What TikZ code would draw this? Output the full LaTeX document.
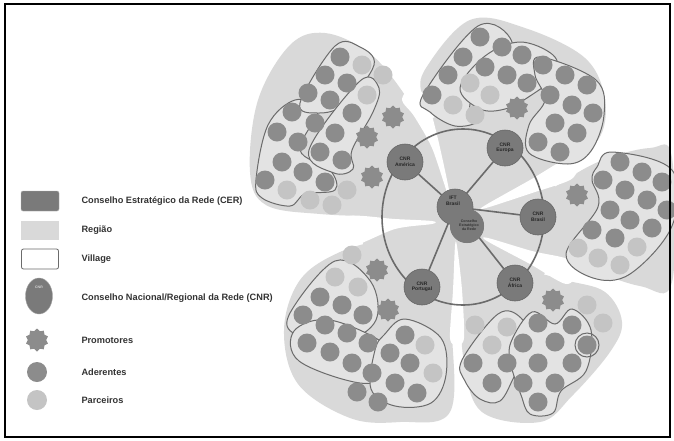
\documentclass[tikz,border=0pt]{standalone}
\usepackage{fontspec}
\setmainfont{Liberation Sans}
\usetikzlibrary{shapes.geometric}

\definecolor{regiongray}{gray}{0.85}
\definecolor{villagefill}{gray}{0.89}
\definecolor{villageline}{gray}{0.42}
\definecolor{adegray}{gray}{0.55}
\definecolor{pargray}{gray}{0.77}
\definecolor{cnrgray}{gray}{0.48}
\definecolor{ringgray}{gray}{0.42}

\tikzset{
  petal/.style={fill=regiongray, draw=none},
  gap/.style={fill=white, draw=none},
  village/.style={fill=villagefill, draw=villageline, line width=1pt},
  promotor/.style={star, star points=10, star point ratio=1.25, minimum size=23pt,
    inner sep=0pt, fill=adegray, draw=none},
  cnr/.style={circle, minimum size=36pt, inner sep=0pt, fill=cnrgray, draw=gray!80!black,
    line width=0.6pt, font=\fontsize{5}{5.5}\selectfont\bfseries, align=center, text=black!85},
  link/.style={draw=ringgray, line width=1.6pt},
  legendtext/.style={anchor=west, font=\fontsize{9.2}{10}\selectfont\bfseries, text=black!80},
}

\begin{document}
\begin{tikzpicture}[x=1pt, y=-1pt]
\useasboundingbox (0,0) rectangle (674,440);
\fill[white] (0,0) rectangle (674,440);

% ---------------- regions (five petals around a common core) ----------------
\fill[petal] plot[smooth cycle, tension=0.6] coordinates {(446,214) (440,175) (424,130) (400,88) (368,52) (325,33) (290,45) (258,100) (250,172) (266,205) (320,214) (385,216)};
\fill[petal] plot[smooth cycle, tension=0.6] coordinates {(452,202) (449,160) (438,124) (422,95) (426,68) (470,20) (525,28) (585,58) (605,100) (598,140) (560,165) (500,196)};
\fill[petal] plot[smooth cycle, tension=0.6] coordinates {(494,226) (545,193) (598,162) (650,148) (672,158) (672,282) (640,286) (580,266) (538,250)};
\fill[petal] plot[smooth cycle, tension=0.6] coordinates {(466,248) (505,264) (565,280) (605,292) (622,322) (610,352) (572,396) (540,422) (482,412) (464,362) (461,300)};
\fill[petal] plot[smooth cycle, tension=0.6] coordinates {(440,232) (450,270) (452,330) (450,412) (400,422) (350,418) (298,384) (284,330) (300,280) (340,252) (392,238)};
\fill[petal] (460,218) ellipse[x radius=100pt, y radius=104pt];

% white separations between the regions, widening outwards
\fill[gap] plot[smooth cycle, tension=0.5] coordinates {(447,192) (432,148) (414,116) (402,100) (412,86) (426,98) (437,135) (449,190)};
\fill[gap] plot[smooth cycle, tension=0.5] coordinates {(484,206) (530,180) (570,157) (578,167) (570,180) (532,193) (486,208)};
\fill[gap] plot[smooth cycle, tension=0.5] coordinates {(488,238) (532,251) (568,259) (578,271) (566,284) (530,264) (487,241)};
\fill[gap] plot[smooth cycle, tension=0.5] coordinates {(457,246) (462,290) (464,338) (457,345) (450,338) (453,290) (455,246)};
\fill[gap] plot[smooth cycle, tension=0.5] coordinates {(432,221) (395,219) (350,216) (345,231) (350,247) (395,229) (432,224)};

% ---------------- villages ----------------
% upper left group
\path[village] plot[smooth cycle, tension=0.6] coordinates {(256,180) (268,125) (295,100) (318,110) (300,150) (330,170) (335,190) (305,194) (290,206) (262,198)};
\path[village] plot[smooth cycle, tension=0.6] coordinates {(300,103) (335,46) (360,47) (374,65) (345,104) (318,113)};
\path[village] plot[smooth cycle, tension=0.6] coordinates {(309,150) (360,81) (379,88) (373,112) (352,150) (353,169) (334,173)};
% upper right group
\path[village] plot[smooth cycle, tension=0.6] coordinates {(423,95) (478,26) (512,42) (495,80) (470,104) (478,121) (455,126) (430,112)};
\path[village] plot[smooth cycle, tension=0.6] coordinates {(460,88) (485,56) (520,42) (553,55) (556,75) (530,96) (505,109) (480,109)};
\path[village] plot[smooth cycle, tension=0.6] coordinates {(540,57) (596,80) (604,115) (591,151) (568,164) (529,153) (529,125) (545,100) (535,75)};
% right group
\path[village] plot[smooth cycle, tension=0.6] coordinates {(597,167) (612,152) (672,170) (672,226) (630,274) (593,278) (566,254) (598,207) (592,180)};
% lower left group
\path[village] plot[smooth cycle, tension=0.6] coordinates {(289,315) (335,261) (371,282) (376,320) (345,341) (299,336)};
\path[village] plot[smooth cycle, tension=0.6] coordinates {(294,331) (330,320) (386,345) (393,373) (360,383) (299,361)};
\path[village] plot[smooth cycle, tension=0.6] coordinates {(384,335) (405,319) (441,338) (446,375) (431,403) (395,406) (371,389) (375,350)};
% lower right group
\path[village] plot[smooth cycle, tension=0.6] coordinates {(462,360) (498,314) (521,318) (531,345) (515,375) (500,401) (480,399) (465,381)};
\path[village] plot[smooth cycle, tension=0.6] coordinates {(511,342) (532,312) (555,324) (572,309) (591,330) (586,371) (561,391) (553,413) (530,414) (521,395) (511,365)};
\draw[villageline, line width=1pt] (587,345) circle[radius=12pt];

% ---------------- members: aderentes ----------------
\foreach \p in {(340,57),(325,75),(347,83),(308,93),(330,100),(292,112),(315,123),(352,113),
  (277,132),(298,142),(335,133),(320,152),(282,162),(303,172),(342,160),(265,180),(325,182),
  (480,37),(502,47),(463,57),(485,67),(522,55),(543,65),(448,75),(507,75),(527,83),(565,75),
  (587,85),(432,95),(550,95),(572,105),(593,113),(555,123),(577,133),(538,142),(560,152),
  (620,162),(642,172),(662,182),(603,180),(625,190),(647,200),(667,210),(610,210),(630,220),
  (652,228),(592,230),(615,238),
  (320,297),(342,305),(363,315),(303,315),(325,325),(347,333),(368,343),(405,335),(307,343),
  (330,352),(352,363),(390,353),(410,363),(372,373),(395,383),(417,393),(357,392),(378,402),
  (538,323),(572,325),(523,343),(555,342),(587,345),(473,363),(507,363),(538,363),(572,363),
  (492,383),(523,383),(555,383),(538,402)}
  \fill[adegray] \p circle[radius=9.5pt];

% ---------------- members: parceiros ----------------
\foreach \p in {(362,65),(383,75),(367,95),(287,190),(347,190),(310,200),(332,205),
  (470,83),(453,105),(490,95),(475,115),
  (637,247),(578,248),(598,258),(620,265),
  (352,255),(335,277),(358,287),(425,345),(433,373),
  (587,305),(475,325),(507,327),(603,323),(492,345)}
  \fill[pargray] \p circle[radius=9.5pt];

% ---------------- promotores ----------------
\foreach \p [count=\i] in {(393,117),(367,137),(372,177),(517,108),(577,195),(377,270),(388,310),(553,300)}
  \node[promotor] (prom\i) at \p {};

% ---------------- council network ----------------
\draw[link] (463,217) ellipse[x radius=81pt, y radius=88pt];

\node[circle, minimum size=34pt, inner sep=0pt, fill=cnrgray] (cerb) at (467,226) {};
\node[cnr] (cer) at (455,207) {};
\node[cnr] (america) at (405,162) {CNR\\América};
\node[cnr] (europa)  at (505,148) {CNR\\Europa};
\node[cnr] (brasil)  at (538,217) {CNR\\Brasil};
\node[cnr] (africa)  at (515,283) {CNR\\África};
\node[cnr] (portugal) at (422,287) {CNR\\Portugal};

\foreach \n in {america,europa,brasil,africa,portugal}
  \draw[link, shorten <=-2pt] (cer) -- (\n);
% centre body drawn again over the spokes
\fill[cnrgray] (467,226) circle[radius=17pt];
\fill[cnrgray] (455,207) circle[radius=17.5pt];
\node[font=\fontsize{5}{5.5}\selectfont\bfseries, align=center, text=black!85] (cerlabel) at (453,201) {IFT\\Brasil};
\node[font=\fontsize{3.6}{4}\selectfont\bfseries, align=center, text=black!80] (cersub) at (469,225) {Conselho\\Estratégico\\da Rede};

% ---------------- legend ----------------
\node[draw=gray!60, fill=cnrgray, rounded corners=2pt, minimum width=38pt, minimum height=20pt] (lgcer) at (40,201) {};
\node[legendtext] (lgcert) at (78,201) {Conselho Estratégico da Rede (CER)};
\node[fill=regiongray, minimum width=38pt, minimum height=19pt] (lgreg) at (40,230) {};
\node[legendtext] (lgregt) at (78,230) {Região};
\node[draw=villageline, fill=white, rounded corners=2pt, line width=0.8pt, minimum width=37pt, minimum height=20pt] (lgvil) at (40,259) {};
\node[legendtext] (lgvilt) at (78,259) {Village};
\node[ellipse, fill=cnrgray, draw=gray!70, minimum width=27pt, minimum height=36pt, inner sep=0pt] (lgcnr) at (39,296) {};
\node[font=\fontsize{3.5}{4}\selectfont\bfseries, text=white!85!black] (lgcnrt) at (39,287) {CNR};
\node[legendtext] (lgcnrl) at (78,298) {Conselho Nacional/Regional da Rede (CNR)};
\node[promotor] (lgpro) at (37,340) {};
\node[legendtext] (lgprot) at (78,340) {Promotores};
\node[circle, fill=adegray, minimum size=20pt, inner sep=0pt] (lgade) at (37,372) {};
\node[legendtext] (lgadet) at (78,372) {Aderentes};
\node[circle, fill=pargray, minimum size=20pt, inner sep=0pt] (lgpar) at (37,400) {};
\node[legendtext] (lgpart) at (78,400) {Parceiros};

% ---------------- frame ----------------
\draw[black, line width=1.6pt] (5,4) rectangle (670,437);
\end{tikzpicture}
\end{document}
